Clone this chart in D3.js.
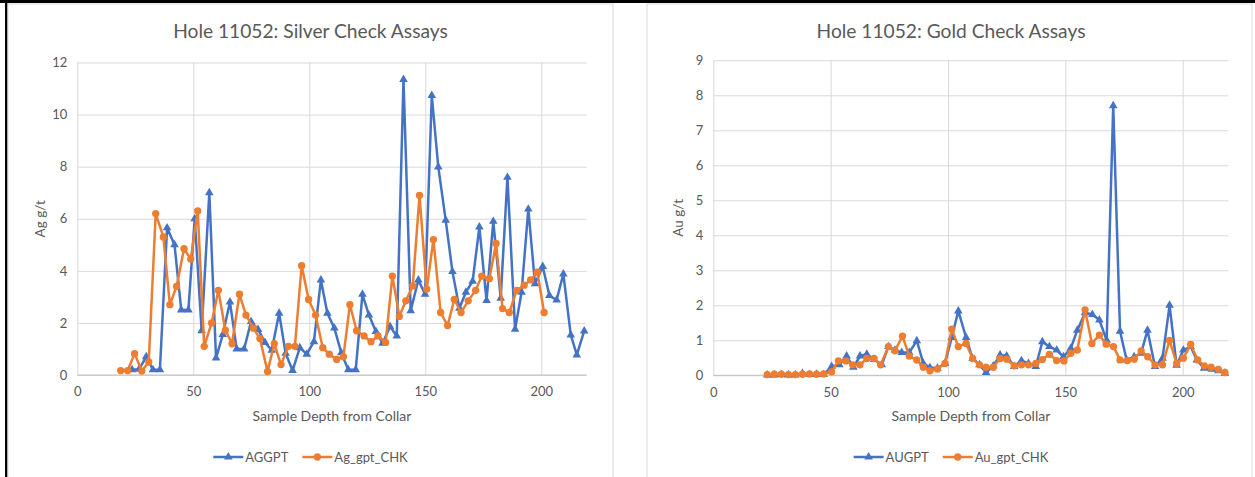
<!DOCTYPE html>
<html>
<head>
<meta charset="utf-8">
<script src="https://cdn.jsdelivr.net/npm/d3@7"></script>
<style>
  html, body { margin: 0; padding: 0; background: #fff; }
  svg { display: block; }
  text { font-family: Lato, "Open Sans", sans-serif; fill: #595959; }
</style>
</head>
<body>
<svg id="chart" width="1255" height="477"></svg>
<script>
// ---------------- DATA ----------------
const agTitle = "Hole 11052: Silver Check Assays";
const auTitle = "Hole 11052: Gold Check Assays";
const xAxisTitle = "Sample Depth from Collar";
const agYTitle = "Ag g/t";
const auYTitle = "Au g/t";
const xTicks = [0, 50, 100, 150, 200];
const agYTicks = [0, 2, 4, 6, 8, 10, 12];
const auYTicks = [0, 1, 2, 3, 4, 5, 6, 7, 8, 9];
const agSeriesNames = ["AGGPT", "Ag_gpt_CHK"];
const auSeriesNames = ["AUGPT", "Au_gpt_CHK"];

// Silver – original assays
const agDepth = [23.6, 26.6, 29.7, 32.6, 35.6, 38.7, 41.9, 44.8, 47.9, 50.6, 53.6, 56.9, 59.8, 62.7, 65.8, 68.7, 71.9, 74.9, 77.9, 80.9, 83.8, 87.0, 89.8, 92.8, 95.9, 98.9, 102.0, 105.0, 107.8, 110.8, 113.8, 116.8, 120.0, 122.9, 125.7, 128.7, 131.6, 134.8, 137.7, 140.6, 143.7, 147.0, 149.9, 152.8, 155.6, 158.8, 161.7, 164.7, 167.5, 170.4, 173.3, 176.4, 179.3, 182.5, 185.4, 188.7, 191.5, 194.4, 197.3, 200.6, 203.5, 206.6, 209.5, 212.7, 215.3, 218.5];
const agAGGPT = [0.2, 0.22, 0.7, 0.2, 0.2, 5.65, 5.0, 2.5, 2.5, 6.0, 1.7, 7.0, 0.65, 1.55, 2.8, 1.0, 1.0, 2.05, 1.75, 1.25, 0.95, 2.37, 0.83, 0.17, 1.05, 0.8, 1.28, 3.65, 2.37, 1.8, 0.85, 0.2, 0.2, 3.1, 2.3, 1.67, 1.22, 1.86, 1.5, 11.35, 2.47, 3.65, 3.1, 10.73, 7.99, 5.94, 3.97, 2.56, 3.18, 3.6, 5.68, 2.86, 5.9, 2.95, 7.59, 1.76, 3.18, 6.37, 3.5, 4.17, 3.05, 2.88, 3.88, 1.54, 0.77, 1.69];
// Silver – check assays
const agChkDepth = [18.7, 21.7, 24.7, 27.8, 30.8, 33.8, 37.1, 39.9, 42.8, 46.0, 48.9, 51.9, 54.7, 57.9, 60.8, 63.8, 66.7, 69.9, 72.7, 75.9, 78.7, 82.0, 84.9, 87.8, 91.0, 93.8, 96.7, 99.7, 102.7, 105.8, 108.6, 111.8, 114.7, 117.5, 120.4, 123.6, 126.6, 129.6, 132.9, 135.8, 138.8, 141.6, 144.6, 147.5, 150.6, 153.5, 156.6, 159.6, 162.5, 165.4, 168.5, 171.7, 174.3, 177.6, 180.5, 183.3, 186.2, 189.4, 192.6, 195.4, 198.3, 201.2];
const agCHK = [0.17, 0.17, 0.82, 0.15, 0.5, 6.2, 5.3, 2.7, 3.4, 4.85, 4.45, 6.3, 1.1, 2.0, 3.25, 1.72, 1.2, 3.1, 2.3, 1.8, 1.4, 0.13, 1.2, 0.4, 1.1, 1.1, 4.2, 2.9, 2.3, 1.05, 0.8, 0.6, 0.7, 2.7, 1.7, 1.5, 1.28, 1.5, 1.25, 3.8, 2.25, 2.85, 3.42, 6.9, 3.3, 5.2, 2.4, 1.9, 2.9, 2.4, 2.85, 3.25, 3.8, 3.7, 5.05, 2.55, 2.4, 3.25, 3.45, 3.65, 3.95, 2.4];

// Gold – original assays
const auDepth = [23, 26, 29, 32, 35, 38, 41, 44, 47, 50.4, 53.7, 56.8, 59.7, 62.5, 65.4, 68.5, 71.8, 74.6, 77.4, 80.3, 83.5, 86.7, 89.5, 92.3, 95.5, 98.7, 101.6, 104.4, 107.7, 110.5, 113.4, 116.2, 119.3, 122.2, 125.0, 128.2, 131.3, 134.3, 137.4, 140.2, 143.2, 146.3, 149.2, 152.3, 155.1, 158.4, 161.5, 164.5, 167.6, 170.4, 173.3, 176.1, 179.3, 182.3, 185.0, 188.2, 191.4, 194.4, 197.4, 200.3, 203.4, 206.0, 209.1, 212.4, 215.2, 218.0];
const auAUGPT = [0.01, 0.01, 0.02, 0.01, 0.01, 0.05, 0.02, 0.03, 0.02, 0.25, 0.3, 0.55, 0.23, 0.55, 0.6, 0.45, 0.3, 0.82, 0.72, 0.65, 0.65, 0.99, 0.34, 0.22, 0.2, 0.34, 1.08, 1.84, 1.08, 0.48, 0.3, 0.08, 0.27, 0.58, 0.55, 0.25, 0.42, 0.34, 0.25, 0.96, 0.82, 0.72, 0.53, 0.77, 1.29, 1.79, 1.74, 1.58, 1.0, 7.7, 1.26, 0.44, 0.53, 0.63, 1.29, 0.25, 0.49, 2.0, 0.29, 0.72, 0.82, 0.44, 0.2, 0.17, 0.13, 0.06];
// Gold – check assays
const auChkDepth = [23, 26, 29, 32, 35, 38, 41, 44, 47, 50.4, 53.3, 56.5, 59.4, 62.5, 65.4, 68.5, 71.3, 74.6, 77.4, 80.6, 83.5, 86.7, 89.5, 92.3, 95.5, 98.7, 101.6, 104.4, 107.7, 110.5, 113.4, 116.2, 119.3, 122.2, 125.0, 128.2, 131.3, 134.3, 137.4, 140.2, 143.2, 146.3, 149.4, 152.3, 155.1, 158.4, 161.3, 164.5, 167.4, 170.5, 173.3, 176.4, 179.3, 182.3, 185.1, 188.2, 191.4, 194.4, 197.4, 200.3, 203.4, 206.4, 209.2, 212.1, 215.2, 218.0];
const auCHK = [0.02, 0.03, 0.03, 0.02, 0.02, 0.03, 0.04, 0.03, 0.04, 0.1, 0.41, 0.41, 0.3, 0.3, 0.48, 0.48, 0.3, 0.82, 0.7, 1.12, 0.55, 0.44, 0.23, 0.13, 0.18, 0.34, 1.32, 0.82, 0.91, 0.48, 0.3, 0.23, 0.23, 0.48, 0.46, 0.27, 0.3, 0.3, 0.34, 0.45, 0.6, 0.42, 0.41, 0.63, 0.72, 1.87, 0.91, 1.15, 0.89, 0.82, 0.44, 0.42, 0.46, 0.7, 0.53, 0.3, 0.3, 1.0, 0.34, 0.49, 0.88, 0.44, 0.27, 0.23, 0.17, 0.08];

// ---------------- DRAWING ----------------
const BLUE = "#4472C4", ORANGE = "#ED7D31", GRID = "#d9d9d9";
const svg = d3.select("#chart");

// page frame (screenshot borders)
svg.append("rect").attr("x", 0).attr("y", 0).attr("width", 1255).attr("height", 3).attr("fill", "#000");
svg.append("rect").attr("x", 5).attr("y", 0).attr("width", 2.5).attr("height", 477).attr("fill", "#000");

function drawChart(cfg) {
  const g = svg.append("g");
  // chart area border
  g.append("rect").attr("x", cfg.box[0]).attr("y", cfg.box[1]).attr("width", cfg.box[2]).attr("height", cfg.box[3])
    .attr("fill", "#fff").attr("stroke", GRID).attr("stroke-width", 1);

  const x = d3.scaleLinear().domain([0, 219.5]).range(cfg.xr);
  const y = d3.scaleLinear().domain([0, cfg.yMax]).range(cfg.yr);

  // horizontal gridlines
  g.append("g").call(d3.axisLeft(y).tickValues(cfg.yTicks).tickSize(-(cfg.xr[1] - cfg.xr[0])).tickFormat(d3.format("d")))
    .attr("transform", `translate(${cfg.xr[0]},0)`)
    .call(a => a.select(".domain").remove())
    .call(a => a.selectAll("line").attr("stroke", GRID).attr("stroke-width", 1))
    .call(a => a.selectAll("text").attr("x", -10).style("font-size", "13px").style("fill", "#595959")
      .style("font-family", "Lato, sans-serif"));
  // vertical gridlines + x labels
  g.append("g").call(d3.axisBottom(x).tickValues(xTicks).tickSize(-(cfg.yr[0] - cfg.yr[1])).tickFormat(d3.format("d")))
    .attr("transform", `translate(0,${cfg.yr[0]})`)
    .call(a => a.select(".domain").remove())
    .call(a => a.selectAll("line").attr("stroke", GRID).attr("stroke-width", 1))
    .call(a => a.selectAll("text").attr("y", 12).style("font-size", "13px").style("fill", "#595959")
      .style("font-family", "Lato, sans-serif"));
  // bottom axis line
  g.append("line").attr("x1", cfg.xr[0]).attr("x2", cfg.xr[1]).attr("y1", cfg.yr[0]).attr("y2", cfg.yr[0])
    .attr("stroke", "#bfbfbf").attr("stroke-width", 1);

  // title
  g.append("text").attr("x", cfg.cx).attr("y", 38).attr("text-anchor", "middle")
    .style("font-size", "19.2px").text(cfg.title);
  // axis titles
  g.append("text").attr("x", (cfg.xr[0] + cfg.xr[1]) / 2).attr("y", 421).attr("text-anchor", "middle")
    .style("font-size", "14px").text(xAxisTitle);
  g.append("text").attr("transform", `translate(${cfg.yTitleX},${(cfg.yr[0] + cfg.yr[1]) / 2}) rotate(-90)`)
    .attr("text-anchor", "middle").style("font-size", "13.5px").text(cfg.yTitle);

  const line = d3.line().x(d => x(d[0])).y(d => y(d[1]));
  const tri = d3.symbol().type(d3.symbolTriangle).size(32);
  const circ = d3.symbol().type(d3.symbolCircle).size(42);

  const s1 = d3.zip(cfg.d1x, cfg.d1y);
  const s2 = d3.zip(cfg.d2x, cfg.d2y);

  g.append("path").datum(s1).attr("d", line).attr("fill", "none").attr("stroke", BLUE).attr("stroke-width", 2.5)
    .attr("stroke-linejoin", "round");
  g.append("g").selectAll("path").data(s1).join("path").attr("d", tri)
    .attr("transform", d => `translate(${x(d[0])},${y(d[1])})`).attr("fill", BLUE);

  g.append("path").datum(s2).attr("d", line).attr("fill", "none").attr("stroke", ORANGE).attr("stroke-width", 2.5)
    .attr("stroke-linejoin", "round");
  g.append("g").selectAll("path").data(s2).join("path").attr("d", circ)
    .attr("transform", d => `translate(${x(d[0])},${y(d[1])})`).attr("fill", ORANGE);

  // legend (centred on chart)
  const lg = g.append("g");
  const items = [{ name: cfg.names[0], c: BLUE, sym: tri }, { name: cfg.names[1], c: ORANGE, sym: circ }];
  let off = 0;
  items.forEach(it => {
    const ig = lg.append("g").attr("transform", `translate(${off},0)`);
    ig.append("line").attr("x1", 0).attr("x2", 30).attr("y1", 0).attr("y2", 0).attr("stroke", it.c).attr("stroke-width", 2.5);
    ig.append("path").attr("d", it.sym).attr("transform", "translate(15,0)").attr("fill", it.c);
    const t = ig.append("text").attr("x", 32).attr("y", 4.5).style("font-size", "13px").text(it.name);
    off += 32 + t.node().getComputedTextLength() + 14;
  });
  const totalW = off - 14;
  lg.attr("transform", `translate(${cfg.cx - totalW / 2},457)`);
}

drawChart({
  box: [8, 4, 605, 480], cx: 310.5, xr: [77.3, 77.3 + 219.5 * 2.32], yr: [375, 62.5], yMax: 12, yTicks: agYTicks,
  title: agTitle, yTitle: agYTitle, yTitleX: 45, d1x: agDepth, d1y: agAGGPT, d2x: agChkDepth, d2y: agCHK,
  names: agSeriesNames
});
drawChart({
  box: [647, 4, 605, 480], cx: 951, xr: [713.3, 713.3 + 219.5 * 2.347], yr: [375.3, 60.3], yMax: 9, yTicks: auYTicks,
  title: auTitle, yTitle: auYTitle, yTitleX: 683, d1x: auDepth, d1y: auAUGPT, d2x: auChkDepth, d2y: auCHK,
  names: auSeriesNames
});
</script>
</body>
</html>
